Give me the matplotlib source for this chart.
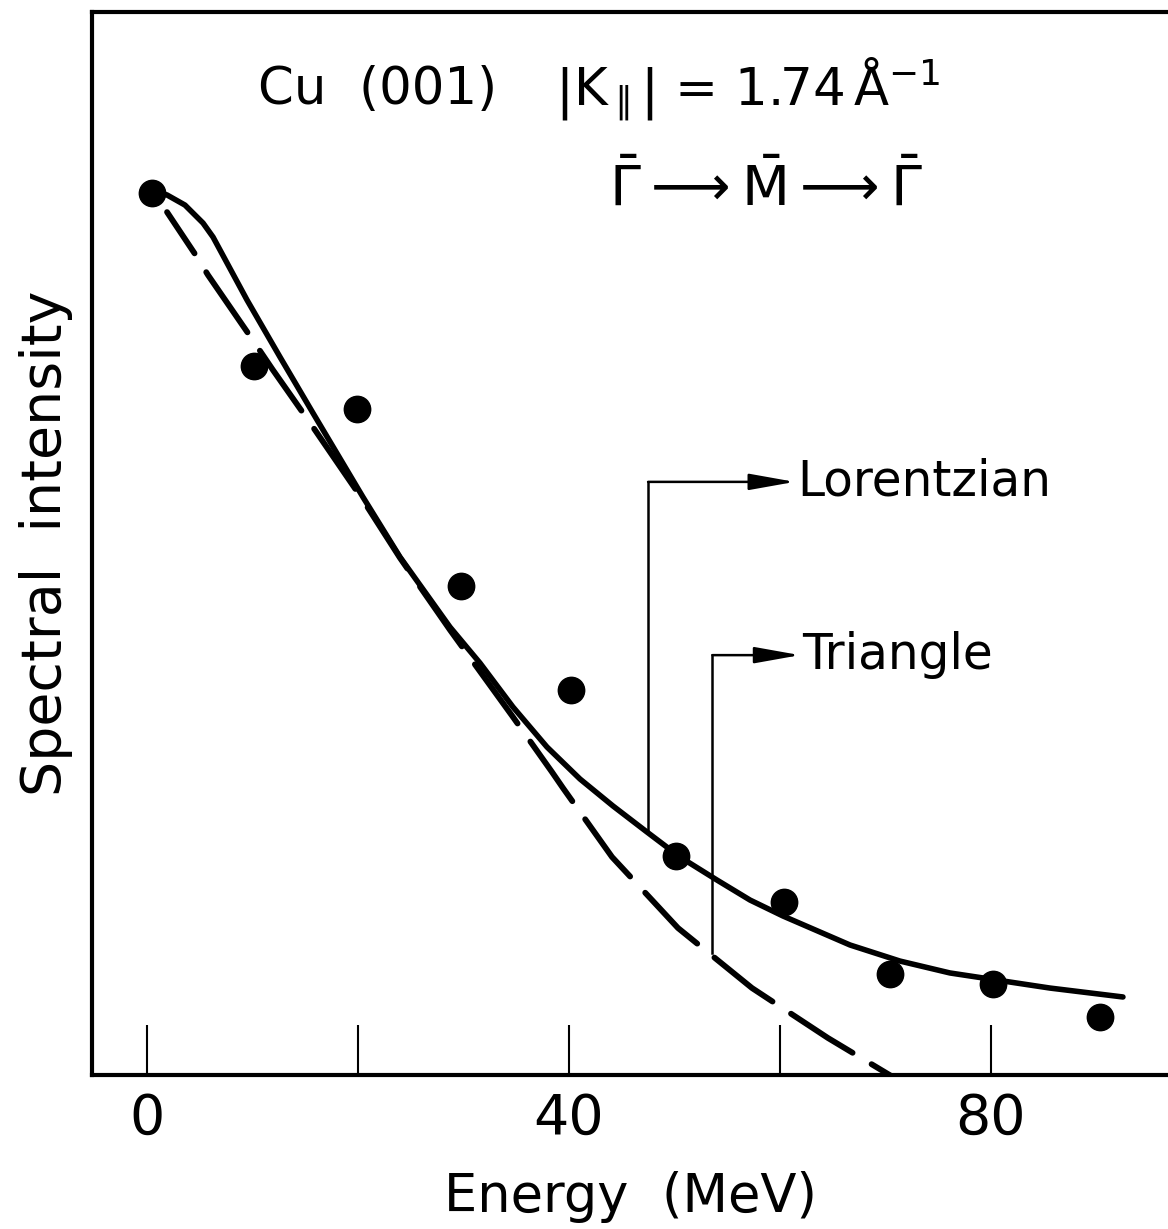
import matplotlib
matplotlib.use("Agg")
import matplotlib.pyplot as plt

plt.rcParams['font.family'] = ['DejaVu Sans']
plt.rcParams['mathtext.fontset'] = 'dejavusans'

# measured points
energy = [0.5, 10.1, 19.9, 29.8, 40.2, 50.1, 60.4, 70.4, 80.2, 90.3]
intensity = [83.0, 66.7, 62.7, 46.0, 36.2, 20.6, 16.3, 9.5, 8.6, 5.5]

# Lorentzian fit (solid)
lor_x = [0.57, 1.90, 3.60, 5.31, 6.26, 9.48, 12.61, 15.73, 20.47, 23.98, 28.72,
         31.56, 34.69, 37.91, 41.04, 44.17, 47.39, 50.52, 54.03, 57.16, 60.28,
         66.64, 71.37, 76.11, 79.24, 85.59, 92.51]
lor_y = [83.25, 82.79, 81.84, 80.15, 78.83, 72.91, 67.54, 62.28, 54.37, 48.73, 42.14,
         38.76, 34.62, 30.86, 27.85, 25.31, 22.86, 20.51, 18.34, 16.46, 14.96,
         12.23, 10.72, 9.60, 9.13, 8.18, 7.34]

# Triangle fit (dashed)
tri_x = [1.90, 4.74, 5.78, 9.57, 11.94, 15.73, 20.47, 23.98, 28.72, 34.69, 38.39,
         39.43, 44.08, 50.33, 57.35, 64.55, 70.71]
tri_y = [81.18, 76.95, 75.26, 69.80, 66.32, 60.96, 54.09, 48.65, 41.87, 33.68, 28.50,
         27.00, 20.51, 13.83, 8.18, 3.48, -0.19]

xticks = [0, 20, 40, 60, 80]
xticklabels = ["0", "", "40", "", "80"]

fig = plt.figure(figsize=(11.68, 12.29), dpi=100)
ax = fig.add_axes([0.0788, 0.1253, 0.9212, 0.8649])

ax.plot(lor_x, lor_y, color="black", lw=4.0, solid_capstyle="round",
        solid_joinstyle="round", zorder=2)
ax.plot(tri_x, tri_y, color="black", lw=4.2, linestyle=(4, (12.5, 3.8)),
        dash_capstyle="round", zorder=2)
ax.plot(energy, intensity, "o", color="black", ms=19, zorder=3)

ax.set_xlim(-5.21, 96.78)
ax.set_ylim(0, 100)
ax.set_xticks(xticks)
ax.set_xticklabels(xticklabels)
ax.set_yticks([])
ax.tick_params(axis="x", direction="in", length=36, width=1.5, pad=12,
               labelsize=40)
for s in ["left", "top", "bottom"]:
    ax.spines[s].set_linewidth(3)
ax.spines["right"].set_visible(False)

ax.set_xlabel("Energy  (MeV)", fontsize=38, labelpad=18)
ax.set_ylabel("Spectral  intensity", fontsize=40, labelpad=14)

ax.text(0.154, 0.927, "Cu  (001)", transform=ax.transAxes, fontsize=37,
        ha="left", va="center")
ax.text(0.430, 0.927, r"$\left|\mathrm{K}_{\parallel}\right|$ = 1.74$\,\mathrm{\AA}^{-1}$",
        transform=ax.transAxes, fontsize=37, ha="left", va="center")
ax.text(0.626, 0.833, r"$\bar{\Gamma}\longrightarrow\bar{\mathrm{M}}\longrightarrow\bar{\Gamma}$",
        transform=ax.transAxes, fontsize=40, ha="center", va="center")

# pointer lines to labels
arrow = dict(arrowstyle="-|>,head_length=1.4,head_width=0.25", color="black",
             lw=1.8, shrinkA=0, shrinkB=0, mutation_scale=20)
ax.plot([47.5, 47.5], [23.0, 55.8], color="black", lw=1.8)
ax.annotate("", xy=(61.4, 55.8), xytext=(47.5, 55.8), arrowprops=arrow)
ax.text(61.6, 55.8, "Lorentzian", fontsize=35, ha="left", va="center")

ax.plot([53.6, 53.6], [11.5, 39.5], color="black", lw=1.8)
ax.annotate("", xy=(61.9, 39.5), xytext=(53.6, 39.5), arrowprops=arrow)
ax.text(62.1, 39.5, "Triangle", fontsize=35, ha="left", va="center")

fig.savefig("out.png", dpi=100)
